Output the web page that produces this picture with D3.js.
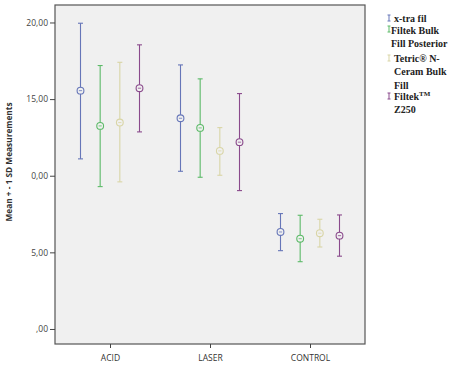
<!DOCTYPE html>
<html><head><meta charset="utf-8">
<script src="https://cdn.jsdelivr.net/npm/d3@7"></script>
<style>body{margin:0;background:#fff;} svg{display:block;}</style>
</head><body>
<svg id="c" width="456" height="377"></svg>
<script>
const categories = ["ACID", "LASER", "CONTROL"];
const seriesNames = ["x-tra fil", "Filtek Bulk Fill Posterior", "Tetric® N-Ceram Bulk Fill", "Filtek™ Z250"];
const seriesColors = ["#6676b8", "#5cba68", "#d9d5a6", "#8a4a8c"];
// mean, upper (mean+1SD), lower (mean-1SD) per series, per category
const meanXtra   = [15.55, 13.75, 6.33];
const upperXtra  = [19.95, 17.23, 7.53];
const lowerXtra  = [11.10, 10.29, 5.11];
const meanFBF    = [13.25, 13.12, 5.89];
const upperFBF   = [17.19, 16.32, 7.42];
const lowerFBF   = [9.29, 9.90, 4.39];
const meanTetric = [13.47, 11.62, 6.25];
const upperTetric= [17.40, 13.14, 7.16];
const lowerTetric= [9.60, 10.03, 5.35];
const meanZ250   = [15.71, 12.19, 6.09];
const upperZ250  = [18.54, 15.36, 7.44];
const lowerZ250  = [12.86, 9.03, 4.75];
const tickValues = [0, 5, 10, 15, 20];
const tickLabels = [",00", "5,00", "0,00", "15,00", "20,00"];
const legendLines = [["x-tra fil"], ["Filtek Bulk", "Fill Posterior"], ["Tetric® N-", "Ceram Bulk", "Fill"], ["Filtek\u1d40\u1d39", "Z250"]];

const means = [meanXtra, meanFBF, meanTetric, meanZ250];
const uppers = [upperXtra, upperFBF, upperTetric, upperZ250];
const lowers = [lowerXtra, lowerFBF, lowerTetric, lowerZ250];

const svg = d3.select("#c");
const L = 55, R = 365, T = 5, B = 344;

const y = d3.scaleLinear().domain([-0.98, 21.14]).range([B, T]);
const x = d3.scalePoint().domain(categories).range([L, R]).padding(0.55);
const xi = d3.scalePoint().domain(d3.range(4)).range([-29.5, 29.5]);

svg.append("rect").attr("x", L).attr("y", T).attr("width", R - L).attr("height", B - T)
  .attr("fill", "#f0f0f0").attr("stroke", "#555").attr("stroke-width", 1.2);

const yAxis = d3.axisLeft(y).tickValues(tickValues).tickSize(5).tickPadding(2)
  .tickFormat((d, i) => tickLabels[i]);
const gy = svg.append("g").attr("transform", `translate(${L},0)`).call(yAxis);
gy.select(".domain").remove();
gy.selectAll("line").attr("stroke", "#444");
gy.selectAll("text").attr("font-family", "Open Sans, sans-serif").attr("font-size", 8.5).attr("fill", "#444");

const xAxis = d3.axisBottom(x).tickSize(4).tickPadding(7);
const gx = svg.append("g").attr("transform", `translate(0,${B})`).call(xAxis);
gx.select(".domain").remove();
gx.selectAll("line").attr("stroke", "#444");
gx.selectAll("text").attr("font-family", "Open Sans, sans-serif").attr("font-size", 8.5).attr("fill", "#333");

svg.append("text").attr("transform", `translate(12,${162}) rotate(-90)`)
  .attr("text-anchor", "middle").attr("font-family", "Open Sans, sans-serif")
  .attr("font-weight", "bold").attr("font-size", 8.3).attr("fill", "#333")
  .text("Mean + - 1 SD Measurements");

const cap = 2.5;
means.forEach((m, s) => {
  const g = svg.append("g").attr("stroke", seriesColors[s]).attr("fill", "none").attr("stroke-width", 1.1);
  categories.forEach((c, ci) => {
    const cx = x(c) + xi(s);
    g.append("line").attr("x1", cx).attr("x2", cx).attr("y1", y(uppers[s][ci])).attr("y2", y(lowers[s][ci]));
    g.append("line").attr("x1", cx - cap).attr("x2", cx + cap).attr("y1", y(uppers[s][ci])).attr("y2", y(uppers[s][ci]));
    g.append("line").attr("x1", cx - cap).attr("x2", cx + cap).attr("y1", y(lowers[s][ci])).attr("y2", y(lowers[s][ci]));
    g.append("circle").attr("cx", cx).attr("cy", y(m[ci])).attr("r", 3.4).attr("fill", "#f0f0f0");
    g.append("line").attr("x1", cx - 1.6).attr("x2", cx + 1.6).attr("y1", y(m[ci])).attr("y2", y(m[ci])).attr("stroke-width", 0.8);
  });
});

// legend
const lg = svg.append("g").attr("font-family", "Liberation Serif, Times New Roman, serif")
  .attr("font-weight", "bold").attr("font-size", 10).attr("fill", "#222");
const firstBase = [22, 34, 62, 100];
const textX = [394, 391, 394, 394];
legendLines.forEach((lines, s) => {
  const by = firstBase[s];
  const mx = 389;
  const mg = lg.append("g").attr("stroke", seriesColors[s]).attr("stroke-width", 1);
  const top = by - 7 - (s === 1 ? 1 : 0), bot = by - 1 - (s === 1 ? 1 : 0);
  const mxx = s === 0 ? mx : 389;
  mg.append("line").attr("x1", mxx).attr("x2", mxx).attr("y1", top).attr("y2", bot);
  mg.append("line").attr("x1", mxx - 1.5).attr("x2", mxx + 1.5).attr("y1", top).attr("y2", top);
  mg.append("line").attr("x1", mxx - 1.5).attr("x2", mxx + 1.5).attr("y1", bot).attr("y2", bot);
  lines.forEach((t, k) => {
    const tx = lg.append("text").attr("x", textX[s] + (s === 1 && k === 0 ? 0 : 0)).attr("y", by + k * 13.3);
    if (t.startsWith("Filtek\u1d40")) {
      tx.text("Filtek");
      tx.append("tspan").attr("font-size", 7).attr("dy", -4).text("TM");
    } else tx.text(t);
  });
});
</script>
</body></html>
